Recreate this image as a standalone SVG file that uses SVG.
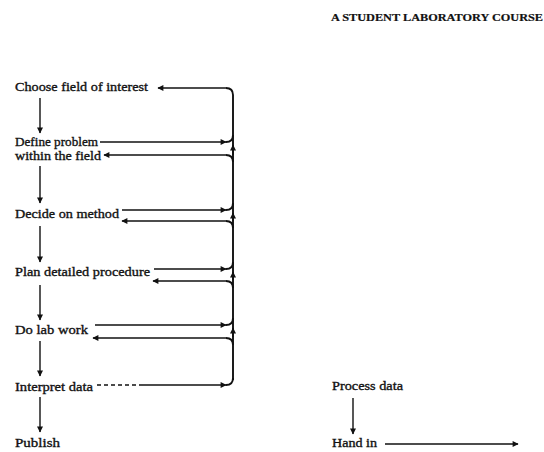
<svg xmlns="http://www.w3.org/2000/svg" width="544" height="452" viewBox="0 0 544 452">
<defs>
<style>
text{font-family:"Liberation Serif","Times New Roman",serif;font-size:13px;fill:#111;stroke:#111;stroke-width:0.35}
.title{font-size:11px;font-weight:bold;stroke-width:0.2}
.ln{fill:none;stroke:#111;stroke-width:1.4}
.bar{fill:none;stroke:#111;stroke-width:1.9}
.dot{fill:none;stroke:#111;stroke-width:1.4;stroke-dasharray:4 3}
</style>
<marker id="ah" viewBox="0 0 10 10" refX="9" refY="5" markerWidth="7" markerHeight="6" markerUnits="userSpaceOnUse" orient="auto">
<path d="M0,0 L10,5 L0,10 z" fill="#111"/>
</marker>
</defs>
<rect width="544" height="452" fill="#fff"/>
<g id="title"><text class="title" x="331" y="21" textLength="212" lengthAdjust="spacingAndGlyphs">A STUDENT LABORATORY COURSE</text></g>
<g id="n-choose"><text x="15" y="91" textLength="133" lengthAdjust="spacingAndGlyphs">Choose field of interest</text></g>
<g id="n-define"><text x="15" y="146" textLength="83" lengthAdjust="spacingAndGlyphs">Define problem</text><text x="15" y="160" textLength="86" lengthAdjust="spacingAndGlyphs">within the field</text></g>
<g id="n-decide"><text x="15" y="218" textLength="104" lengthAdjust="spacingAndGlyphs">Decide on method</text></g>
<g id="n-plan"><text x="15" y="276" textLength="135" lengthAdjust="spacingAndGlyphs">Plan detailed procedure</text></g>
<g id="n-lab"><text x="15" y="334" textLength="73" lengthAdjust="spacingAndGlyphs">Do lab work</text></g>
<g id="n-interpret"><text x="15" y="391" textLength="78" lengthAdjust="spacingAndGlyphs">Interpret data</text></g>
<g id="n-publish"><text x="15" y="447" textLength="45" lengthAdjust="spacingAndGlyphs">Publish</text></g>
<g id="n-process"><text x="332" y="390" textLength="71" lengthAdjust="spacingAndGlyphs">Process data</text></g>
<g id="n-handin"><text x="332" y="447" textLength="45" lengthAdjust="spacingAndGlyphs">Hand in</text></g>
<g id="connectors">
<line class="ln" x1="40" y1="98" x2="40" y2="133" marker-end="url(#ah)"/>
<line class="ln" x1="40" y1="166" x2="40" y2="203" marker-end="url(#ah)"/>
<line class="ln" x1="40" y1="226" x2="40" y2="262" marker-end="url(#ah)"/>
<line class="ln" x1="40" y1="285" x2="40" y2="320" marker-end="url(#ah)"/>
<line class="ln" x1="40" y1="341" x2="40" y2="376" marker-end="url(#ah)"/>
<line class="ln" x1="40" y1="397" x2="40" y2="432" marker-end="url(#ah)"/>
<line class="ln" x1="353" y1="398" x2="353" y2="434" marker-end="url(#ah)"/>
<line class="ln" x1="385" y1="444" x2="518" y2="444" marker-end="url(#ah)"/>
<path class="bar" d="M233,95 V380"/>
<path class="bar" d="M226,88 Q233,88 233,95"/>
<line class="ln" x1="226" y1="88" x2="158" y2="88" marker-end="url(#ah)"/>
<line class="ln" x1="100" y1="142" x2="226" y2="142" marker-end="url(#ah)"/>
<path class="bar" d="M226,142 Q233,142 233,135"/>
<line class="ln" x1="122" y1="210" x2="226" y2="210" marker-end="url(#ah)"/>
<path class="bar" d="M226,210 Q233,210 233,203"/>
<line class="ln" x1="154" y1="269" x2="226" y2="269" marker-end="url(#ah)"/>
<path class="bar" d="M226,269 Q233,269 233,262"/>
<line class="ln" x1="95" y1="325" x2="226" y2="325" marker-end="url(#ah)"/>
<path class="bar" d="M226,325 Q233,325 233,318"/>
<line class="dot" x1="97" y1="385" x2="143" y2="385"/>
<line class="ln" x1="143" y1="385" x2="226" y2="385" marker-end="url(#ah)"/>
<path class="bar" d="M226,385 Q233,385 233,378"/>
<line class="ln" x1="233" y1="155" x2="233" y2="145" marker-end="url(#ah)"/>
<line class="ln" x1="233" y1="221" x2="233" y2="213" marker-end="url(#ah)"/>
<line class="ln" x1="233" y1="280" x2="233" y2="272" marker-end="url(#ah)"/>
<line class="ln" x1="233" y1="337" x2="233" y2="328" marker-end="url(#ah)"/>
<path class="bar" d="M233,162 Q233,155 226,155"/>
<line class="ln" x1="226" y1="155" x2="104" y2="155" marker-end="url(#ah)"/>
<path class="bar" d="M233,228 Q233,221 226,221"/>
<line class="ln" x1="226" y1="221" x2="122" y2="221" marker-end="url(#ah)"/>
<path class="bar" d="M233,288 Q233,281 226,281"/>
<line class="ln" x1="226" y1="281" x2="153" y2="281" marker-end="url(#ah)"/>
<path class="bar" d="M233,345 Q233,338 226,338"/>
<line class="ln" x1="226" y1="338" x2="93" y2="338" marker-end="url(#ah)"/>
</g>
</svg>
